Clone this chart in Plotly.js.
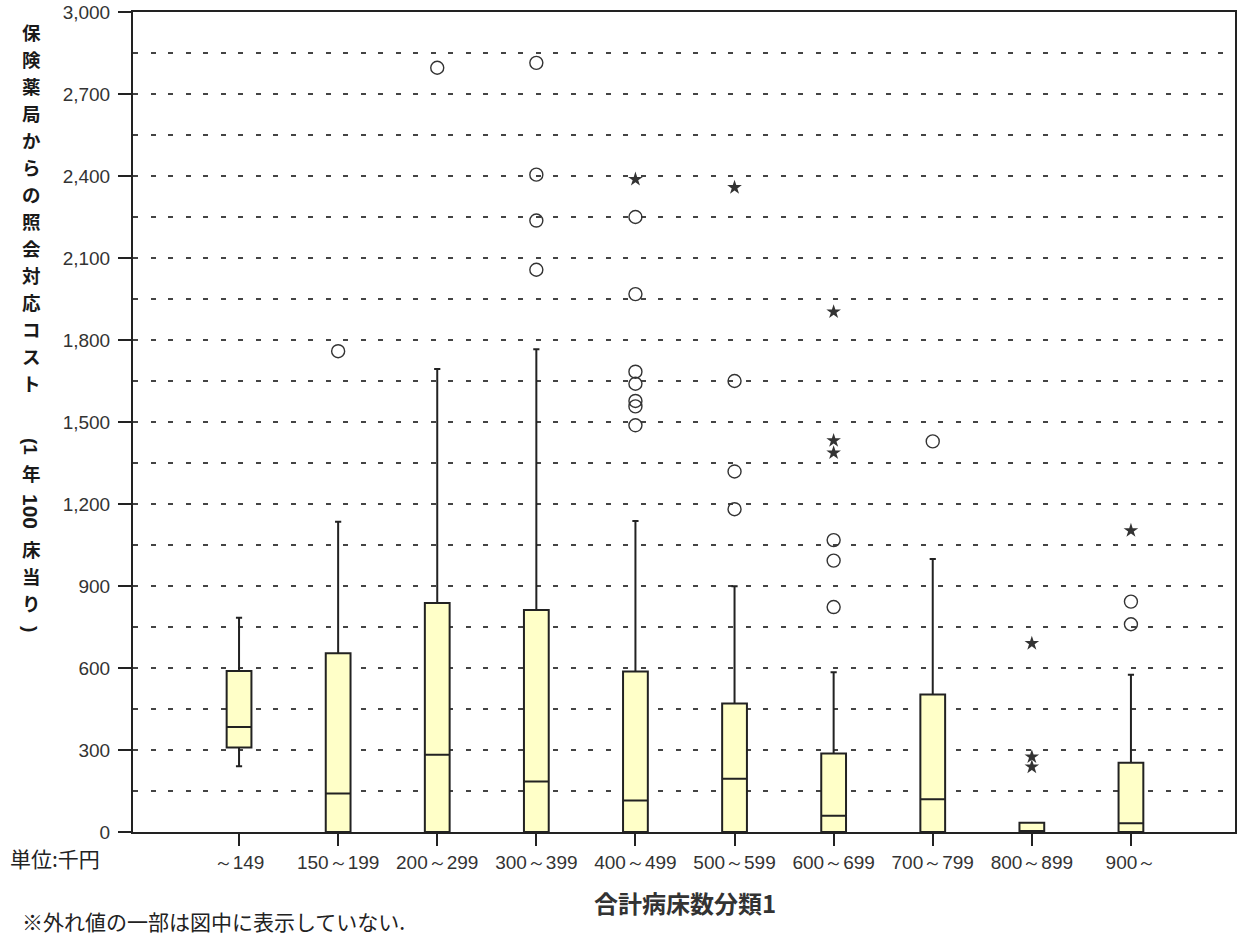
<!DOCTYPE html>
<html>
<head>
<meta charset="utf-8">
<script src="https://cdn.plot.ly/plotly-3.0.1.min.js"></script>
<style>html,body{margin:0;padding:0;background:#fff;}#chart{width:1243px;height:938px;}</style>
</head>
<body>
<div id="chart"></div>
<script>
// ---- data ----
const categories = ["～149", "150～199", "200～299", "300～399", "400～499", "500～599", "600～699", "700～799", "800～899", "900～"];
const lowerWhisker = [241, 0, 0, 0, 0, 0, 0, 0, 0, 0];
const q1Values     = [309, 0, 0, 0, 0, 0, 0, 0, 0, 0];
const medianValues = [384, 141, 283, 185, 115, 195, 59, 120, 0, 32];
const q3Values     = [589, 654, 838, 812, 587, 470, 287, 503, 34, 253];
const upperWhisker = [784, 1135, 1694, 1766, 1138, 899, 584, 999, 34, 575];

// outliers (circles)
const circleCats = ["150～199", "200～299", "300～399", "300～399", "300～399", "300～399",
  "400～499", "400～499", "400～499", "400～499", "400～499", "400～499", "400～499",
  "500～599", "500～599", "500～599", "600～699", "600～699", "600～699", "700～799", "900～", "900～"];
const circleVals = [1759, 2796, 2814, 2405, 2237, 2057,
  2250, 1968, 1684, 1640, 1577, 1557, 1488,
  1650, 1319, 1181, 1068, 993, 823, 1429, 843, 760];
// extreme values (stars)
const starCats = ["400～499", "500～599", "600～699", "600～699", "600～699", "800～899", "800～899", "800～899", "900～"];
const starVals = [2388, 2358, 1903, 1432, 1387, 690, 275, 238, 1103];

const yTitleMain = "保険薬局からの照会対応コスト";
const yTitleUnitParts = ["(1", "年", "100", "床", "当", "り", ")"];
const xTitle = "合計病床数分類1";
const unitText = "単位:千円";
const noteText = "※外れ値の一部は図中に表示していない.";

// ---- layout helpers (pixel -> paper) ----
const W = 1243, H = 938;
const M = {l: 133, r: 8, t: 12, b: 106};
const PW = W - M.l - M.r, PH = H - M.t - M.b;
const px = x => (x - M.l) / PW;
const py = y => (H - M.b - y) / PH;

const tickFont = {family: "Liberation Sans, Arial, sans-serif", size: 19, color: "#333"};
const cjkBold = {family: "Noto Sans CJK JP", size: 18.5, color: "#1a1a1a", weight: 700};
const latinBold = s => ({family: "Liberation Sans, Arial, sans-serif", size: s, color: "#1a1a1a", weight: 700});

const traces = [
  {
    type: "box",
    x: categories,
    q1: q1Values,
    median: medianValues,
    q3: q3Values,
    lowerfence: lowerWhisker,
    upperfence: upperWhisker,
    fillcolor: "#ffffc8",
    line: {color: "#222", width: 2},
    whiskerwidth: 0.25,
    width: 0.25,
    boxpoints: false,
    hoverinfo: "skip",
    showlegend: false
  },
  {
    type: "scatter", mode: "markers",
    x: circleCats, y: circleVals,
    marker: {symbol: "circle-open", size: 13, color: "#333", line: {width: 1.4, color: "#333"}},
    showlegend: false, hoverinfo: "skip"
  },
  {
    type: "scatter", mode: "markers",
    x: starCats, y: starVals,
    marker: {symbol: "star", size: 11, color: "#333", line: {width: 0}},
    showlegend: false, hoverinfo: "skip"
  }
];

const annotations = [];
// vertical (tategaki) y-axis title, one glyph per annotation
Array.from(yTitleMain).forEach((ch, i) => {
  annotations.push({text: ch, x: px(31), y: py(32 + i * 27), xref: "paper", yref: "paper",
    xanchor: "center", yanchor: "middle", showarrow: false, font: cjkBold});
});
const unitPartY = [446, 473, 511, 549, 576, 603, 629];
yTitleUnitParts.forEach((t, i) => {
  const latin = /^[()0-9]+$/.test(t);
  annotations.push({text: t, x: px(31), y: py(unitPartY[i]), xref: "paper", yref: "paper",
    xanchor: "center", yanchor: "middle", showarrow: false,
    textangle: latin ? 90 : 0,
    font: latin ? latinBold(t === "100" ? 21 : 19) : cjkBold});
});

annotations.push(
  {text: unitText, x: px(8), y: py(858), xref: "paper", yref: "paper",
   xanchor: "left", yanchor: "middle", showarrow: false,
   font: {family: "Noto Sans CJK JP", size: 21, color: "#222"}},
  {text: xTitle, x: px(685), y: py(902), xref: "paper", yref: "paper",
   xanchor: "center", yanchor: "middle", showarrow: false,
   font: {family: "Noto Sans CJK JP", size: 24, color: "#333", weight: 700}},
  {text: noteText, x: px(20), y: py(921), xref: "paper", yref: "paper",
   xanchor: "left", yanchor: "middle", showarrow: false,
   font: {family: "Noto Sans CJK JP", size: 21, color: "#222"}}
);

const gridStyle = {gridcolor: "#444", gridwidth: 2, griddash: "5px,12.5px"};

const layout = {
  width: W, height: H,
  margin: M,
  paper_bgcolor: "#fff", plot_bgcolor: "#fff",
  showlegend: false,
  boxmode: "overlay",
  xaxis: {
    type: "category",
    categoryorder: "array",
    categoryarray: categories,
    range: [-1.07, 10.05],
    showgrid: false,
    zeroline: false,
    showline: true, linecolor: "#222", linewidth: 2, mirror: true,
    ticks: "outside", ticklen: 12, tickwidth: 2, tickcolor: "#222",
    tickfont: tickFont
  },
  yaxis: {
    range: [0, 3000],
    dtick: 300, tick0: 0,
    tickformat: ",d",
    showgrid: true, ...gridStyle,
    minor: {dtick: 150, showgrid: true, ...gridStyle, ticks: ""},
    zeroline: false,
    showline: true, linecolor: "#222", linewidth: 2, mirror: true,
    ticks: "outside", ticklen: 13, tickwidth: 2, tickcolor: "#222",
    ticklabelstandoff: 4,
    tickfont: tickFont
  },
  annotations: annotations
};

Plotly.newPlot("chart", traces, layout, {staticPlot: true, displayModeBar: false});
</script>
</body>
</html>
